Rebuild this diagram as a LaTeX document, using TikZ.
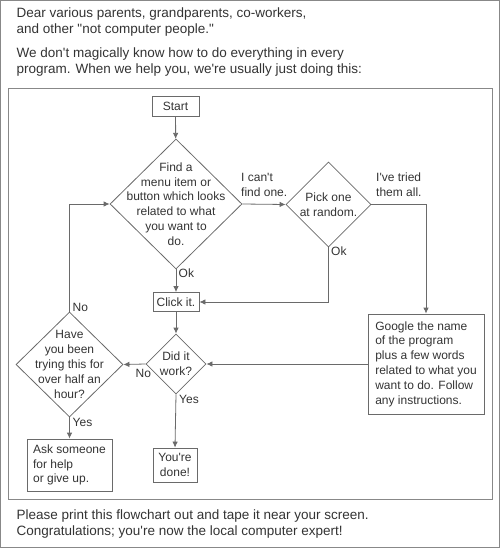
\documentclass[tikz,border=0pt]{standalone}
\usepackage{fontspec}
\setmainfont{Liberation Sans}[Ligatures=TeXOff]
\usetikzlibrary{shapes.geometric,arrows.meta,positioning}
\definecolor{ink}{HTML}{333333}
\definecolor{edge}{HTML}{6A6A6A}
\tikzstyle{box}=[draw=edge,line width=0.8pt,inner sep=0pt,text=ink,font=\fontsize{12}{14.8}\selectfont]
\tikzstyle{decision}=[diamond,draw=edge,line width=0.8pt,inner sep=0pt]
\tikzstyle{inside}=[text=ink,align=center,font=\fontsize{12}{14.8}\selectfont]
\tikzstyle{tag}=[text=ink,align=left,anchor=west,inner sep=0pt,font=\fontsize{12}{14.8}\selectfont]
\tikzstyle{link}=[draw=edge,line width=0.8pt,-{Latex[length=6pt,width=5.5pt]}]
\tikzstyle{prose}=[text=ink,align=left,anchor=base west,inner sep=0pt,font=\fontsize{13.5}{16.2}\selectfont]

\begin{document}
\begin{tikzpicture}[x=1pt,y=-1pt]
	\useasboundingbox (0,0) rectangle (500,548);
	\draw[edge!80,line width=1pt] (0.5,0.5) rectangle (499.5,547.5);
	\draw[edge!80,line width=0.8pt] (8,88) rectangle (492,499);
	% text round the chart (base is the last line)
	\node[prose] (dear) at (16.5,33.5) {Dear various parents, grandparents, co-workers,\\and other "not computer people."};
	\node[prose] (magic) at (16.5,73.5) {We don't magically know how to do everything in every\\program. When we help you, we're usually just doing this:};
	\node[prose] (print) at (16.5,535.7) {Please print this flowchart out and tape it near your screen.\\Congratulations; you're now the local computer expert!};
	% the chart
	\node[box,minimum width=47pt,minimum height=20pt] (start) at (175.5,106) {Start};
	\node[decision,minimum width=132pt,minimum height=130pt] (find) at (176,204) {};
	\node[inside] (find text) at (find) {Find a\\menu item or\\button which looks\\related to what\\you want to\\do.};
	\node[decision,minimum width=85pt,minimum height=85pt] (pick) at (328.5,204.5) {};
	\node[inside] (pick text) at (pick) {Pick one\\at random.};
	\node[box,minimum width=46pt,minimum height=19pt] (click) at (176,302) {Click it.};
	\node[decision,minimum width=60pt,minimum height=60pt] (work) at (176,364) {};
	\node[inside] (work text) at (work) {Did it\\work?};
	\node[decision,minimum width=107pt,minimum height=105pt] (hour) at (69.5,364.5) {};
	\node[inside] (hour text) at (hour) {Have\\you been\\trying this for\\over half an\\hour?};
	\node[box,align=left,minimum width=85pt,minimum height=52pt] (ask) at (69.5,465) {Ask someone\\for help\\or give up.};
	\node[box,align=center,minimum width=44pt,minimum height=34pt] (done) at (175,465) {You're\\done!};
	\node[box,align=left,minimum width=116pt,minimum height=100pt] (google) at (426,364) {Google the name\\of the program\\plus a few words\\related to what you\\want to do. Follow\\any instructions.};
	% connectors
	\draw[link] (start) -- (find);
	\draw[link] (find.east) -- (pick.west);
	\draw[link] (pick.east) -| (google.north);
	\draw[link] (pick.south) |- (click.east);
	\draw[link] (find.south) -- (click.north);
	\draw[link] (click.south) -- (work.north);
	\draw[link] (work.south) -- (done.north);
	\draw[link] (google.west) -- (work.east);
	\draw[link] (work.west) -- (hour.east);
	\draw[link] (hour.south) -- (ask.north);
	\draw[link] (hour.north) |- (find.west);
	% answers
	\node[tag] (cant) at (241,185) {I can't\\find one.};
	\node[tag] (tried) at (376,185) {I've tried\\them all.};
	\node[tag] (ok find) at (178.5,273) {Ok};
	\node[tag] (ok pick) at (331,251) {Ok};
	\node[tag] (no hour) at (72.5,307) {No};
	\node[tag] (no work) at (135.5,373) {No};
	\node[tag] (yes work) at (179,399) {Yes};
	\node[tag] (yes hour) at (72.5,422) {Yes};
\end{tikzpicture}
\end{document}
